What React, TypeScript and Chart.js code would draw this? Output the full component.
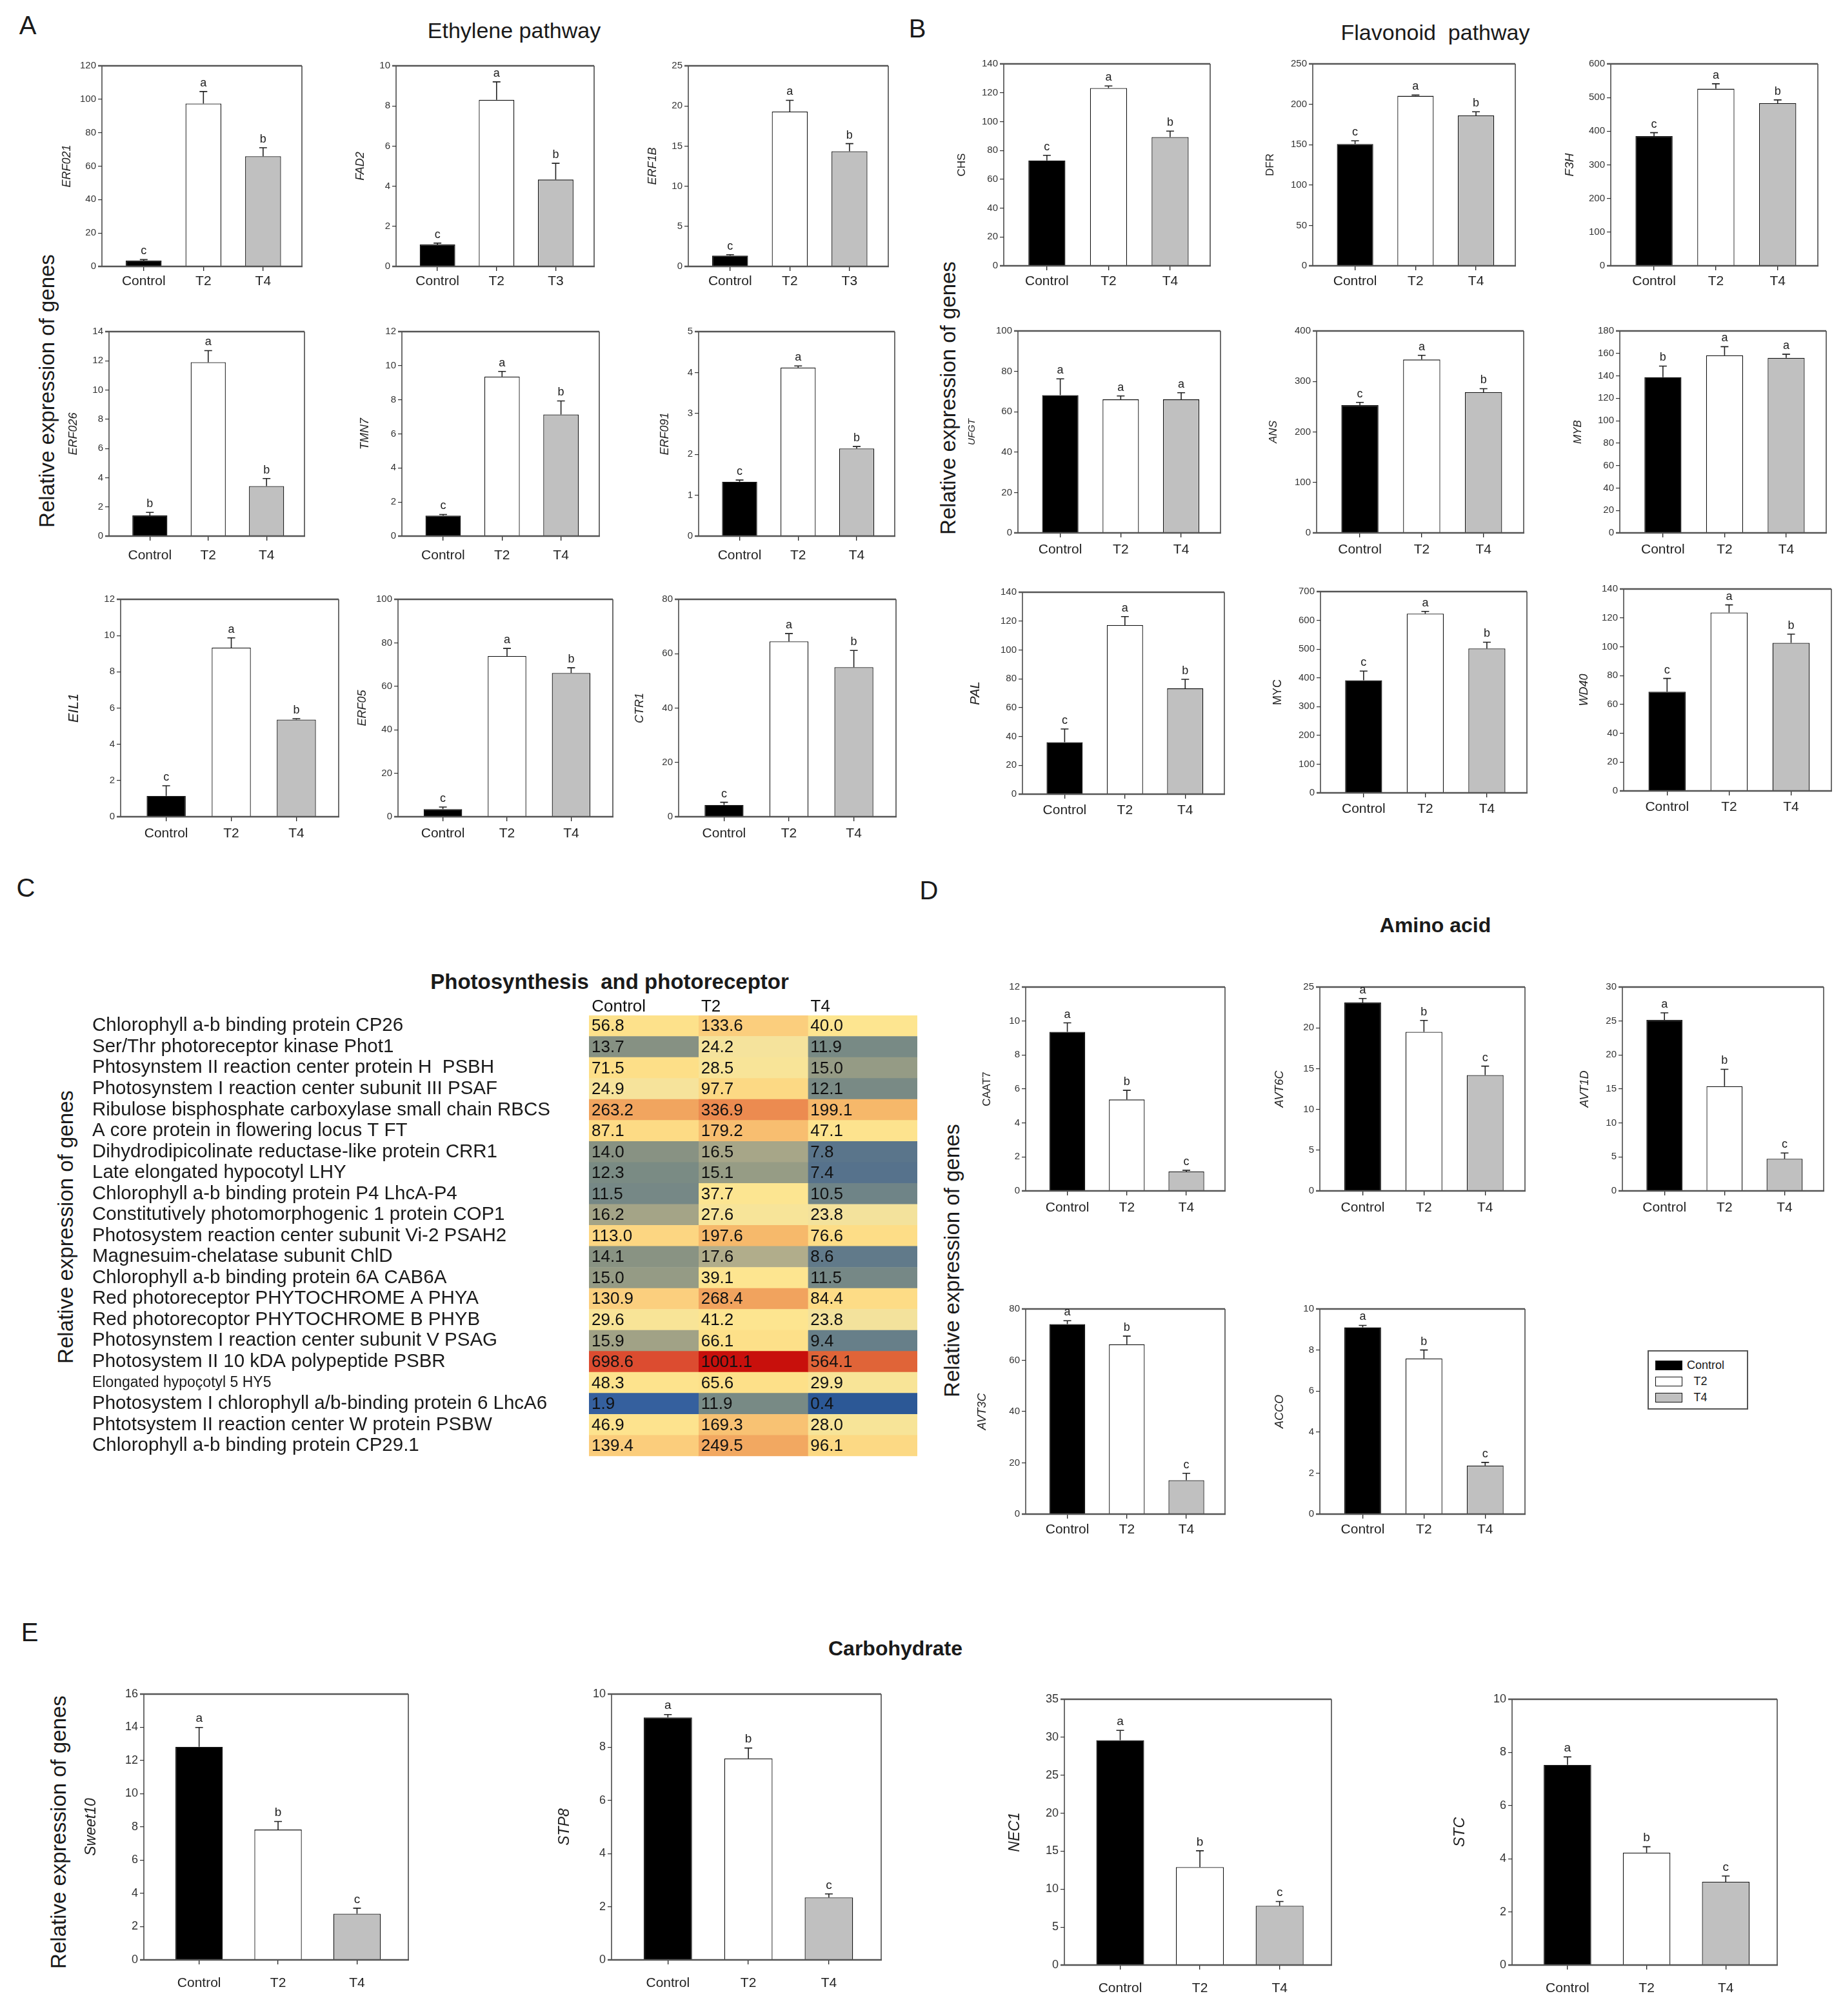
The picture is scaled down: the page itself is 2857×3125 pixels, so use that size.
import React, { useEffect, useRef } from 'react';
import { Chart, registerables } from 'chart.js';

Chart.register(...registerables);

const FONT = '"Liberation Sans", Arial, Helvetica, sans-serif';

// ---------- shared categories ----------
const TREATMENTS = ['Control', 'T2', 'T4'];
const TREATMENTS_T3 = ['Control', 'T2', 'T3'];

// ---------- Panel A: Ethylene pathway ----------
const ETHYLENE_GENES = ['ERF021', 'FAD2', 'ERF1B', 'ERF026', 'TMN7', 'ERF091', 'EIL1', 'ERF05', 'CTR1'];
const ETHYLENE_MEANS = [
  [3.5, 97.4, 65.9], [1.09, 8.3, 4.33], [1.34, 19.3, 14.35],
  [1.41, 11.9, 3.42], [1.2, 9.36, 7.14], [1.33, 4.12, 2.14],
  [1.15, 9.33, 5.36], [3.47, 73.9, 66.1], [4.36, 64.5, 55.0],
];
const ETHYLENE_ERRORS = [
  [0.6, 7.2, 5.1], [0.07, 0.9, 0.81], [0.13, 1.4, 0.95],
  [0.21, 0.8, 0.52], [0.07, 0.3, 0.79], [0.04, 0.04, 0.05],
  [0.56, 0.54, 0.05], [1.0, 3.5, 2.4], [0.94, 2.9, 6.2],
];
const ETHYLENE_LETTERS = [
  ['c', 'a', 'b'], ['c', 'a', 'b'], ['c', 'a', 'b'],
  ['b', 'a', 'b'], ['c', 'a', 'b'], ['c', 'a', 'b'],
  ['c', 'a', 'b'], ['c', 'a', 'b'], ['c', 'a', 'b'],
];
const ETHYLENE_YMAX = [120, 10, 25, 14, 12, 5, 12, 100, 80];
const ETHYLENE_YSTEP = [20, 2, 5, 2, 2, 1, 2, 20, 20];
const ETHYLENE_XLABELS = [TREATMENTS, TREATMENTS_T3, TREATMENTS_T3, TREATMENTS, TREATMENTS, TREATMENTS, TREATMENTS, TREATMENTS, TREATMENTS];

// ---------- Panel B: Flavonoid pathway ----------
const FLAVONOID_GENES = ['CHS', 'DFR', 'F3H', 'UFGT', 'ANS', 'MYB', 'PAL', 'MYC', 'WD40'];
const FLAVONOID_MEANS = [
  [73.0, 123.2, 89.2], [150.8, 210.4, 186.2], [385.5, 526, 483],
  [68.2, 66.1, 66.1], [252.9, 343.3, 278.5], [138.7, 158.3, 156.0],
  [36.0, 117.2, 73.3], [391.4, 623, 502], [68.8, 123.7, 102.7],
];
const FLAVONOID_ERRORS = [
  [3.6, 1.5, 4.2], [4.0, 1.0, 4.5], [10.2, 14.8, 9.8],
  [8.1, 1.7, 3.3], [5.5, 8.5, 7.2], [10.0, 7.7, 3.2],
  [9.2, 5.9, 6.3], [32, 8, 22], [9.2, 5.3, 6.0],
];
const FLAVONOID_LETTERS = [
  ['c', 'a', 'b'], ['c', 'a', 'b'], ['c', 'a', 'b'],
  ['a', 'a', 'a'], ['c', 'a', 'b'], ['b', 'a', 'a'],
  ['c', 'a', 'b'], ['c', 'a', 'b'], ['c', 'a', 'b'],
];
const FLAVONOID_YMAX = [140, 250, 600, 100, 400, 180, 140, 700, 140];
const FLAVONOID_YSTEP = [20, 50, 100, 20, 100, 20, 20, 100, 20];

// ---------- Panel C: Photosynthesis and photoreceptor ----------
const PHOTO_GENES = [
  'Chlorophyll a-b binding protein CP26',
  'Ser/Thr photoreceptor kinase Phot1',
  'Phtosynstem II reaction center protein H  PSBH',
  'Photosynstem I reaction center subunit III PSAF',
  'Ribulose bisphosphate carboxylase small chain RBCS',
  'A core protein in flowering locus T FT',
  'Dihydrodipicolinate reductase-like protein CRR1',
  'Late elongated hypocotyl LHY',
  'Chlorophyll a-b binding protein P4 LhcA-P4',
  'Constitutively photomorphogenic 1 protein COP1',
  'Photosystem reaction center subunit Vi-2 PSAH2',
  'Magnesuim-chelatase subunit ChlD',
  'Chlorophyll a-b binding protein 6A CAB6A',
  'Red photoreceptor PHYTOCHROME A PHYA',
  'Red photorecoptor PHYTOCHROME B PHYB',
  'Photosynstem I reaction center subunit V PSAG',
  'Photosystem II 10 kDA polypeptide PSBR',
  'Elongated hypoçotyl 5 HY5',
  'Photosystem I chlorophyll a/b-binding protein 6 LhcA6',
  'Phtotsystem II reaction center W protein PSBW',
  'Chlorophyll a-b binding protein CP29.1',
];
const PHOTO_CONTROL = [56.8, 13.7, 71.5, 24.9, 263.2, 87.1, 14.0, 12.3, 11.5, 16.2, 113.0, 14.1, 15.0, 130.9, 29.6, 15.9, 698.6, 48.3, 1.9, 46.9, 139.4];
const PHOTO_T2 = [133.6, 24.2, 28.5, 97.7, 336.9, 179.2, 16.5, 15.1, 37.7, 27.6, 197.6, 17.6, 39.1, 268.4, 41.2, 66.1, 1001.1, 65.6, 11.9, 169.3, 249.5];
const PHOTO_T4 = [40.0, 11.9, 15.0, 12.1, 199.1, 47.1, 7.8, 7.4, 10.5, 23.8, 76.6, 8.6, 11.5, 84.4, 23.8, 9.4, 564.1, 29.9, 0.4, 28.0, 96.1];

// ---------- Panel D: Amino acid ----------
const AMINO_GENES = ['CAAT7', 'AVT6C', 'AVT1D', 'AVT3C', 'ACCO'];
const AMINO_MEANS = [[9.36, 5.38, 1.14], [23.1, 19.5, 14.2], [25.15, 15.4, 4.73], [74.1, 66.2, 13.2], [9.1, 7.59, 2.37]];
const AMINO_ERRORS = [[0.53, 0.54, 0.07], [0.5, 1.4, 1.1], [1.05, 2.5, 0.85], [1.3, 3.2, 2.7], [0.1, 0.41, 0.15]];
const AMINO_LETTERS = [['a', 'b', 'c'], ['a', 'b', 'c'], ['a', 'b', 'c'], ['a', 'b', 'c'], ['a', 'b', 'c']];
const AMINO_YMAX = [12, 25, 30, 80, 10];
const AMINO_YSTEP = [2, 5, 5, 20, 2];

// ---------- Panel E: Carbohydrate ----------
const CARB_GENES = ['Sweet10', 'STP8', 'NEC1', 'STC'];
const CARB_MEANS = [[12.83, 7.84, 2.78], [9.12, 7.58, 2.35], [29.6, 12.9, 7.8], [7.53, 4.23, 3.13]];
const CARB_ERRORS = [[1.16, 0.49, 0.33], [0.11, 0.39, 0.13], [1.3, 2.15, 0.57], [0.3, 0.22, 0.22]];
const CARB_LETTERS = [['a', 'b', 'c'], ['a', 'b', 'c'], ['a', 'b', 'c'], ['a', 'b', 'c']];
const CARB_YMAX = [16, 10, 35, 10];
const CARB_YSTEP = [2, 2, 5, 2];

// ---------- layout (page pixels) ----------
const A_BOXES = [[158, 102, 310, 311], [614, 102, 307, 311], [1067, 102, 310, 311], [169, 514, 303, 317], [623, 514, 306, 317], [1083, 514, 304, 317], [187, 929, 338, 337], [617, 929, 333, 337], [1052, 929, 337, 337]];
const A_GAPS = [54, 55, 55, 55, 57, 52, 72, 55, 60];
const A_TSIZE = [18, 18, 18, 18, 18, 18, 22, 18, 18];
const A_XPAD = [4, 4, 4, 11, 11, 11, 7, 7, 7];
const A_ITALIC = [true, true, true, true, true, true, true, true, true];

const B_BOXES = [[1556, 99, 320, 313], [2035, 99, 314, 313], [2497, 99, 321, 313], [1578, 513, 314, 313], [2041, 513, 321, 313], [2511, 513, 320, 313], [1585, 918, 313, 313], [2047, 917, 320, 312], [2517, 913, 322, 313]];
const B_GAPS = [65, 66, 64, 71, 67, 65, 73, 66, 61];
const B_TSIZE = [17, 17, 19, 15, 17, 17, 20, 18, 18];
const B_XPAD = [5, 5, 5, 7, 7, 7, 6, 6, 6];
const B_ITALIC = [false, false, true, true, true, true, true, false, true];

const D_BOXES = [[1590, 1530, 309, 316], [2046, 1530, 318, 316], [2515, 1530, 312, 316], [1590, 2029, 309, 318], [2046, 2029, 318, 318]];
const D_GAPS = [60, 62, 58, 67, 62];
const D_TSIZE = [17, 18, 18, 18, 18];
const D_XPAD = [7, 7, 7, 5, 5];
const D_ITALIC = [false, true, true, true, true];

const E_BOXES = [[223, 2626, 410, 412], [948, 2626, 418, 412], [1650, 2634, 414, 412], [2344, 2634, 411, 412]];
const E_GAPS = [81, 72, 76, 80];
const E_TSIZE = [23, 23, 23, 23];
const E_XPAD = [17, 17, 17, 17];
const E_ITALIC = [true, true, true, true];

const BAR_FILLS = ['#000000', '#ffffff', '#c0c0c0'];

type BarSpec = {
  gene: string; means: number[]; errors: number[]; letters: string[];
  ymax: number; ystep: number; xlabels: string[]; box: number[];
  gap: number; tsize: number; italic: boolean; xpad: number;
  tickSize: number; labelSize: number; letterSize: number;
};

function build(genes: string[], means: number[][], errors: number[][], letters: string[][], ymax: number[], ystep: number[], xlabels: string[][] | null,
  boxes: number[][], gaps: number[], tsize: number[], xpad: number[], italic: boolean[], tickSize: number, labelSize: number, letterSize: number): BarSpec[] {
  return genes.map((g, i) => ({
    gene: g, means: means[i], errors: errors[i], letters: letters[i], ymax: ymax[i], ystep: ystep[i],
    xlabels: xlabels ? xlabels[i] : TREATMENTS, box: boxes[i], gap: gaps[i], tsize: tsize[i], italic: italic[i],
    xpad: xpad[i], tickSize, labelSize, letterSize,
  }));
}

const SPECS: BarSpec[] = [
  ...build(ETHYLENE_GENES, ETHYLENE_MEANS, ETHYLENE_ERRORS, ETHYLENE_LETTERS, ETHYLENE_YMAX, ETHYLENE_YSTEP, ETHYLENE_XLABELS, A_BOXES, A_GAPS, A_TSIZE, A_XPAD, A_ITALIC, 15, 21, 18),
  ...build(FLAVONOID_GENES, FLAVONOID_MEANS, FLAVONOID_ERRORS, FLAVONOID_LETTERS, FLAVONOID_YMAX, FLAVONOID_YSTEP, null, B_BOXES, B_GAPS, B_TSIZE, B_XPAD, B_ITALIC, 15, 21, 18),
  ...build(AMINO_GENES, AMINO_MEANS, AMINO_ERRORS, AMINO_LETTERS, AMINO_YMAX, AMINO_YSTEP, null, D_BOXES, D_GAPS, D_TSIZE, D_XPAD, D_ITALIC, 15, 21, 18),
  ...build(CARB_GENES, CARB_MEANS, CARB_ERRORS, CARB_LETTERS, CARB_YMAX, CARB_YSTEP, null, E_BOXES, E_GAPS, E_TSIZE, E_XPAD, E_ITALIC, 18, 21, 19),
];

const framePlugin = {
  id: 'frame',
  afterDatasetsDraw(chart: any) {
    const { ctx, chartArea } = chart;
    const { left, right, top, bottom } = chartArea;
    ctx.save();
    ctx.strokeStyle = '#222';
    ctx.lineWidth = 1.3;
    ctx.beginPath();
    ctx.moveTo(left, top); ctx.lineTo(left, bottom);
    ctx.moveTo(right, top); ctx.lineTo(right, bottom);
    ctx.stroke();
    ctx.strokeStyle = '#555';
    ctx.lineWidth = 2.6;
    ctx.beginPath();
    ctx.moveTo(left - 6, top); ctx.lineTo(right, top);
    ctx.moveTo(left - 6, bottom); ctx.lineTo(right + 1, bottom);
    ctx.stroke();
    ctx.restore();
  },
};

function errorPlugin(s: BarSpec) {
  return {
    id: 'errbars',
    afterDatasetsDraw(chart: any) {
      const { ctx } = chart;
      const ys = chart.scales.y;
      const meta = chart.getDatasetMeta(0);
      ctx.save();
      meta.data.forEach((bar: any, i: number) => {
        const x = bar.x;
        const y0 = ys.getPixelForValue(s.means[i]);
        const y1 = ys.getPixelForValue(s.means[i] + s.errors[i]);
        ctx.strokeStyle = '#222';
        ctx.lineWidth = 1.6;
        ctx.beginPath();
        ctx.moveTo(x, y0); ctx.lineTo(x, y1);
        ctx.moveTo(x - 6, y1); ctx.lineTo(x + 6, y1);
        ctx.stroke();
        ctx.fillStyle = '#222';
        ctx.font = `${s.letterSize}px ${FONT}`;
        ctx.textAlign = 'center';
        ctx.textBaseline = 'bottom';
        ctx.fillText(s.letters[i], x, y1 - 4);
      });
      ctx.restore();
    },
  };
}

function BarChart({ s }: { s: BarSpec }) {
  const ref = useRef<HTMLCanvasElement>(null);
  const yAxisW = Math.round(s.gap + s.tsize * 0.6);
  const padTop = 20, padRight = 8, xAxisH = 52;
  const cw = yAxisW + s.box[2] + padRight;
  const ch = padTop + s.box[3] + xAxisH;
  useEffect(() => {
    const chart = new Chart(ref.current as HTMLCanvasElement, {
      type: 'bar',
      data: {
        datasets: [{
          data: s.means.map((v, i) => ({ x: i, y: v })),
          backgroundColor: BAR_FILLS,
          borderColor: '#111',
          borderWidth: 1.3,
          barPercentage: 0.6,
          categoryPercentage: 1,
        } as any],
      },
      options: {
        responsive: false,
        animation: false,
        devicePixelRatio: 1,
        layout: { padding: { top: padTop, right: padRight, left: 0, bottom: 0 } },
        plugins: { legend: { display: false }, tooltip: { enabled: false } },
        scales: {
          x: {
            type: 'linear', min: -0.7, max: 2.65, offset: false,
            afterBuildTicks: (sc: any) => { sc.ticks = [0, 1, 2].map((v) => ({ value: v })); },
            afterFit: (sc: any) => { sc.height = xAxisH; },
            ticks: {
              callback: (v: any) => s.xlabels[Math.round(Number(v))],
              font: { family: FONT, size: s.labelSize },
              color: '#222', padding: s.xpad, autoSkip: false, maxRotation: 0,
            },
            grid: { drawOnChartArea: false, drawTicks: true, tickLength: 7, color: '#222', lineWidth: 1.3, offset: false },
            border: { display: false },
          },
          y: {
            type: 'linear', min: 0, max: s.ymax,
            afterFit: (sc: any) => { sc.width = yAxisW; },
            ticks: { stepSize: s.ystep, font: { family: FONT, size: s.tickSize }, color: '#333', padding: 3 },
            grid: { drawOnChartArea: false, drawTicks: true, tickLength: 6, color: '#333', lineWidth: 1.2 },
            border: { display: false },
            title: {
              display: true, text: s.gene, padding: 0, color: '#222',
              font: { family: FONT, size: s.tsize, style: s.italic ? 'italic' : 'normal' },
            },
          },
        },
      } as any,
      plugins: [framePlugin, errorPlugin(s)],
    });
    return () => chart.destroy();
  }, []);
  return (
    <canvas ref={ref} width={cw} height={ch}
      style={{ position: 'absolute', left: s.box[0] - yAxisW, top: s.box[1] - padTop, width: cw, height: ch }} />
  );
}

// heatmap colour ramp (log10 of value -> rgb)
const HEAT_STOPS: [number, number[]][] = [
  [-0.4, [44, 88, 150]], [0.28, [53, 96, 158]], [0.87, [86, 114, 140]], [1.0, [108, 130, 136]],
  [1.1, [124, 140, 132]], [1.15, [137, 147, 131]], [1.2, [160, 162, 134]], [1.25, [179, 174, 140]],
  [1.38, [245, 227, 156]], [1.6, [253, 229, 144]], [1.85, [253, 223, 136]], [2.05, [252, 214, 130]],
  [2.15, [251, 204, 124]], [2.3, [246, 184, 106]], [2.45, [240, 160, 92]], [2.53, [236, 138, 80]],
  [2.75, [224, 100, 56]], [2.85, [220, 74, 48]], [3.0, [200, 16, 12]],
];
function heatColor(v: number) {
  const t = Math.log10(Math.max(v, 0.1));
  if (t <= HEAT_STOPS[0][0]) return `rgb(${HEAT_STOPS[0][1].join(',')})`;
  for (let k = 1; k < HEAT_STOPS.length; k++) {
    const [t1, c1] = HEAT_STOPS[k];
    const [t0, c0] = HEAT_STOPS[k - 1];
    if (t <= t1) {
      const f = (t - t0) / (t1 - t0);
      const c = c0.map((a, j) => Math.round(a + (c1[j] - a) * f));
      return `rgb(${c.join(',')})`;
    }
  }
  return `rgb(${HEAT_STOPS[HEAT_STOPS.length - 1][1].join(',')})`;
}

const PHOTO_COLUMNS = [PHOTO_CONTROL, PHOTO_T2, PHOTO_T4];

const cellTextPlugin = {
  id: 'celltext',
  afterDatasetsDraw(chart: any) {
    const { ctx } = chart;
    ctx.save();
    ctx.fillStyle = '#111';
    ctx.font = `26px ${FONT}`;
    ctx.textAlign = 'left';
    ctx.textBaseline = 'middle';
    PHOTO_COLUMNS.forEach((vals, c) => {
      const meta = chart.getDatasetMeta(c);
      meta.data.forEach((bar: any, i: number) => {
        const x0 = Math.min(bar.x, bar.base);
        ctx.fillText(vals[i].toFixed(1), x0 + 4, bar.y + 1);
      });
    });
    ctx.restore();
  },
};

function Heatmap() {
  const ref = useRef<HTMLCanvasElement>(null);
  const left = 143, top = 1536, width = 1287, height = 742;
  useEffect(() => {
    const chart = new Chart(ref.current as HTMLCanvasElement, {
      type: 'bar',
      data: {
        labels: PHOTO_GENES,
        datasets: PHOTO_COLUMNS.map((vals, c) => ({
          data: vals.map(() => [c, c + 1]),
          backgroundColor: vals.map(heatColor),
          borderWidth: 0,
          barPercentage: 1,
          categoryPercentage: 1,
          grouped: false,
        })) as any,
      },
      options: {
        indexAxis: 'y',
        responsive: false,
        animation: false,
        devicePixelRatio: 1,
        layout: { padding: { top: 0, right: 8, bottom: 0, left: 0 } },
        plugins: { legend: { display: false }, tooltip: { enabled: false } },
        scales: {
          x: {
            type: 'linear', position: 'top', min: 0, max: 3, offset: false,
            afterBuildTicks: (sc: any) => { sc.ticks = [0.025, 1.025, 2.025].map((v) => ({ value: v })); },
            afterFit: (sc: any) => { sc.height = 38; },
            ticks: {
              align: 'start',
              callback: (v: any) => TREATMENTS[Math.floor(Number(v))],
              font: { family: FONT, size: 26, lineHeight: 1 },
              color: '#111', padding: 0, autoSkip: false, maxRotation: 0,
            },
            grid: { display: false, drawTicks: false },
            border: { display: false },
          },
          y: {
            type: 'category',
            afterFit: (sc: any) => { sc.width = 770; },
            ticks: {
              crossAlign: 'far', autoSkip: false, color: '#1a1a1a',
              font: (ctx: any) => ({ family: FONT, size: String(PHOTO_GENES[ctx.index] || '').includes('HY5') ? 23 : 29.5 }),
            },
            grid: { display: false, drawTicks: false },
            border: { display: false },
          },
        },
      } as any,
      plugins: [cellTextPlugin],
    });
    return () => chart.destroy();
  }, []);
  return (
    <canvas ref={ref} width={width} height={height}
      style={{ position: 'absolute', left, top, width, height }} />
  );
}

function Txt({ x, y, size, bold, rot, children }: any) {
  return (
    <div style={{
      position: 'absolute', left: x, top: y,
      transform: `translate(-50%, -50%)${rot ? ' rotate(-90deg)' : ''}`,
      fontSize: size, fontWeight: bold ? 700 : 400, whiteSpace: 'pre', lineHeight: 1,
      fontFamily: FONT, color: '#1a1a1a',
    }}>{children}</div>
  );
}

const LEGEND_FILLS = BAR_FILLS;

function Legend() {
  return (
    <div style={{
      position: 'absolute', left: 2554, top: 2093, width: 152, height: 88,
      border: '2px solid #555', background: '#fff', fontFamily: FONT, fontSize: 18, color: '#1a1a1a',
    }}>
      {TREATMENTS.map((t, i) => (
        <div key={t} style={{ position: 'absolute', left: 10, top: 12 + i * 25, height: 18, display: 'flex', alignItems: 'center' }}>
          <div style={{ width: 42, height: 15, background: LEGEND_FILLS[i], border: '1.3px solid #111', boxSizing: 'border-box' }} />
          <div style={{ width: 80, textAlign: i === 0 ? 'left' : 'center', paddingLeft: i === 0 ? 7 : 0, marginLeft: i === 0 ? 0 : -12 }}>{t}</div>
        </div>
      ))}
    </div>
  );
}

export default function App() {
  return (
    <div style={{ position: 'absolute', left: 0, top: 0, width: 2857, height: 3125, background: '#fff', overflow: 'hidden' }}>
      <Txt x={43} y={39} size={40}>A</Txt>
      <Txt x={1422} y={44} size={40}>B</Txt>
      <Txt x={40} y={1376} size={40}>C</Txt>
      <Txt x={1440} y={1380} size={40}>D</Txt>
      <Txt x={46} y={2530} size={40}>E</Txt>

      <Txt x={797} y={47} size={34}>Ethylene pathway</Txt>
      <Txt x={2225} y={50} size={34}>{'Flavonoid  pathway'}</Txt>
      <Txt x={945} y={1521} size={33} bold>{'Photosynthesis  and photoreceptor'}</Txt>
      <Txt x={2225} y={1434} size={32} bold>Amino acid</Txt>
      <Txt x={1388} y={2555} size={32} bold>Carbohydrate</Txt>

      <Txt x={72} y={606} size={33} rot>Relative expression of genes</Txt>
      <Txt x={1469} y={617} size={33} rot>Relative expression of genes</Txt>
      <Txt x={101} y={1902} size={33} rot>Relative expression of genes</Txt>
      <Txt x={1475} y={1954} size={33} rot>Relative expression of genes</Txt>
      <Txt x={90} y={2840} size={33} rot>Relative expression of genes</Txt>

      {SPECS.map((s, i) => <BarChart key={i} s={s} />)}
      <Heatmap />
      <Legend />
    </div>
  );
}
